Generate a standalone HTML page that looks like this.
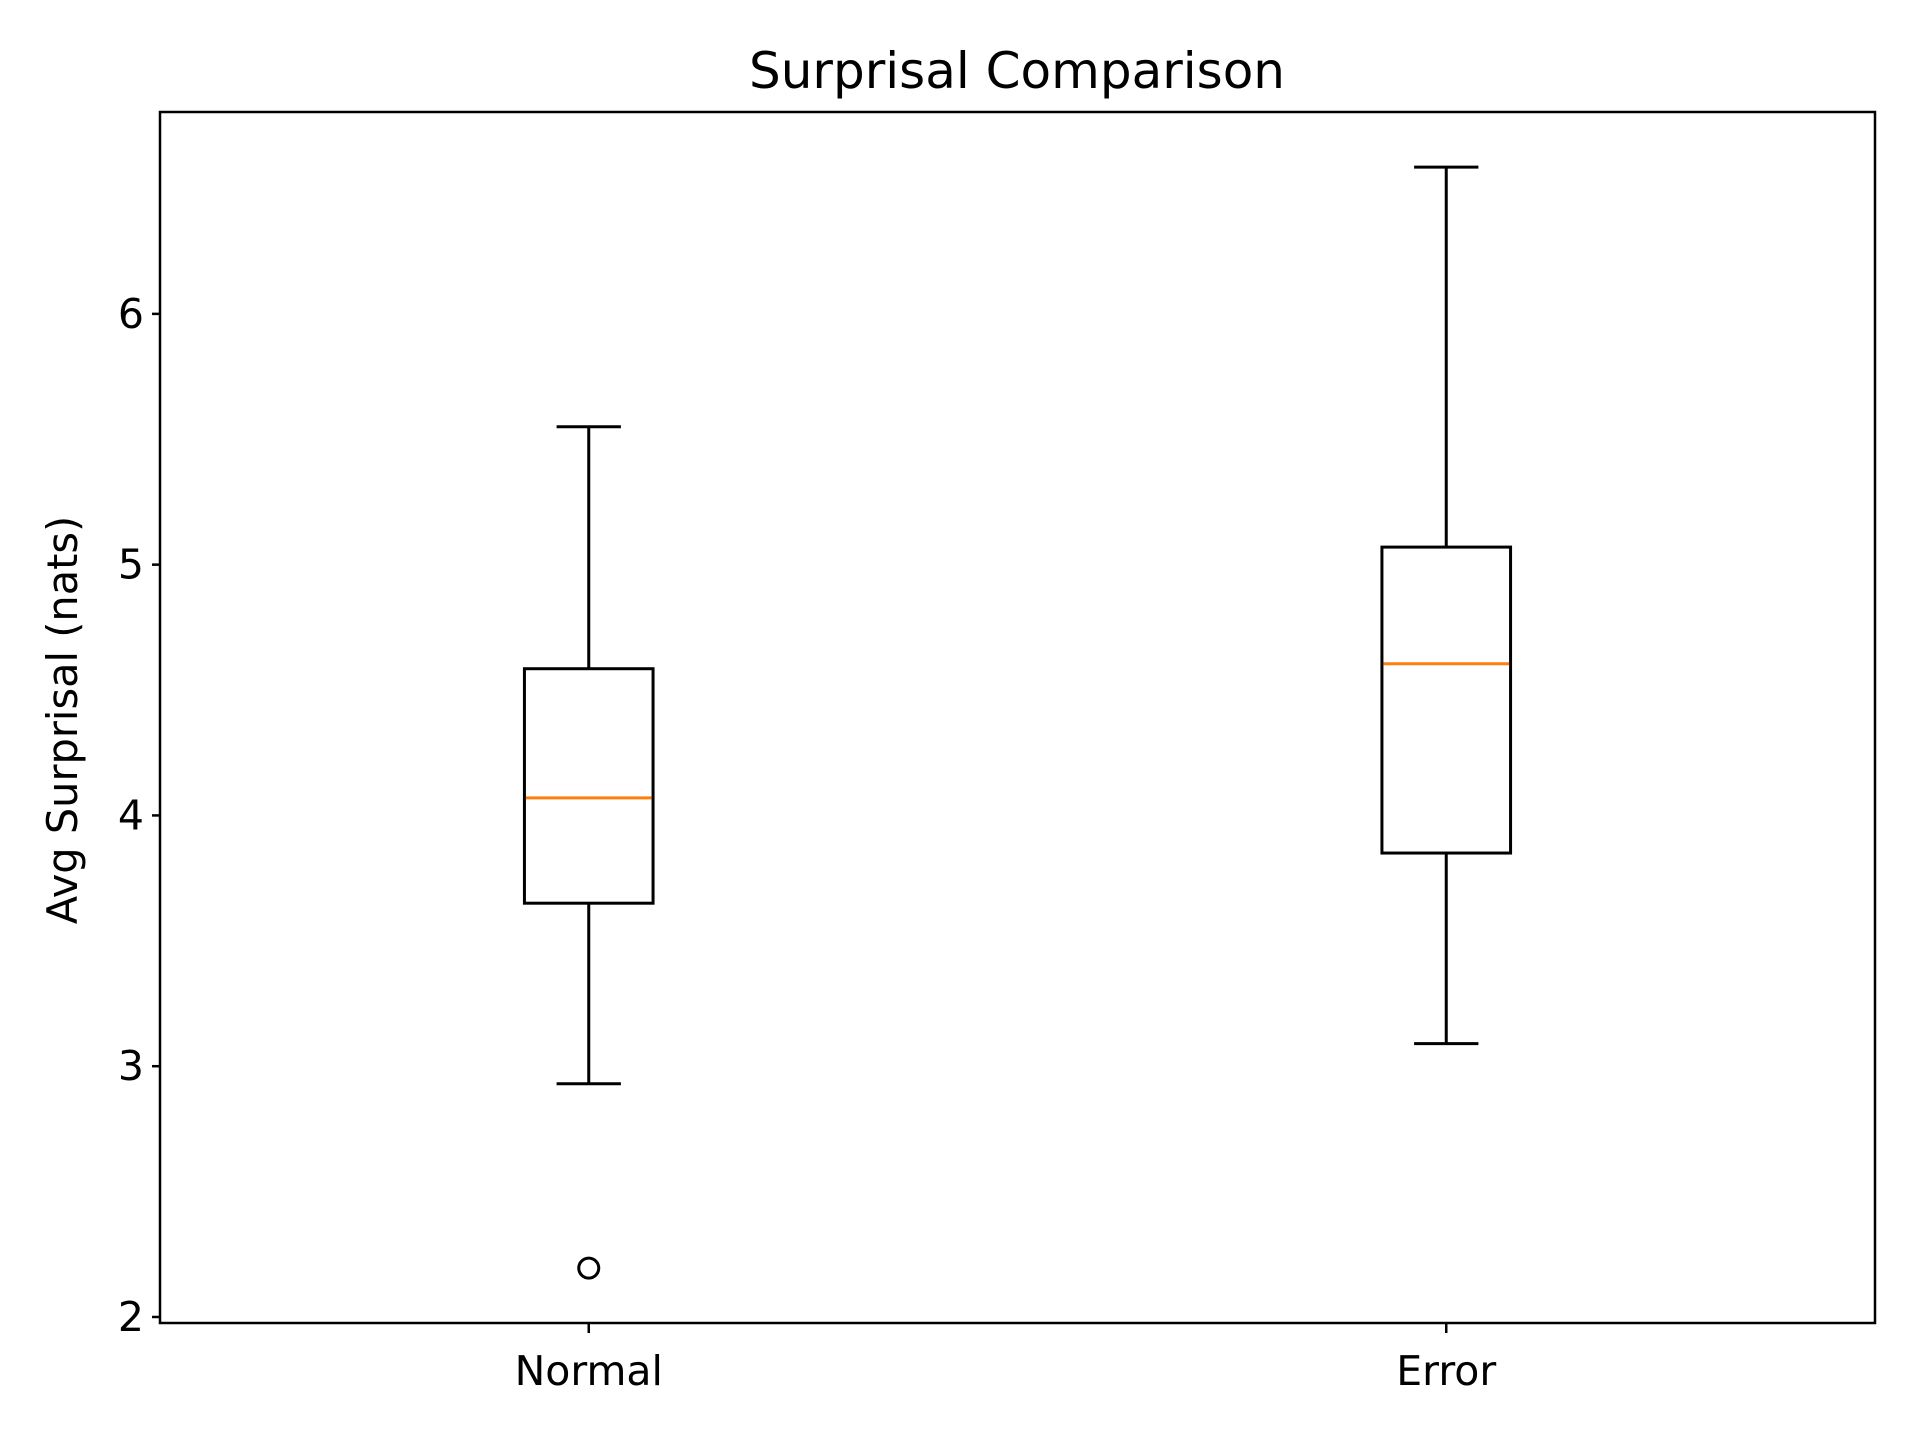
<!DOCTYPE html>
<html><head><meta charset="utf-8"><style>
html,body{margin:0;padding:0;background:#fff;}
svg{display:block;font-family:"DejaVu Sans","Liberation Sans",sans-serif;}
</style></head><body>
<svg id="chart" width="1920" height="1440" viewBox="0 0 1920 1440" xmlns="http://www.w3.org/2000/svg">
<rect width="1920" height="1440" fill="#fff"/>
<text x="1017" y="88" font-size="50" text-anchor="middle">Surprisal Comparison</text>
<text transform="translate(77,720) rotate(-90)" font-size="41.5" text-anchor="middle">Avg Surprisal (nats)</text>
<g id="marks"></g>
<rect x="160" y="112" width="1715" height="1211" fill="none" stroke="#000" stroke-width="2.5"/>
</svg>
<script>
const categories = ["Normal", "Error"];
const whiskerLow = [2.93, 3.09];
const q1 = [3.65, 3.85];
const medians = [4.07, 4.605];
const q3 = [4.585, 5.07];
const whiskerHigh = [5.55, 6.585];
const outliers = [[2.195], []];
const yTicks = [2, 3, 4, 5, 6];

const L = 160, R = 1875, T = 112, B = 1323;
const yMin = 1.976, yMax = 6.805;
const xMin = 0.5, xMax = 2.5;
function xs(i){ return L + (i + 1 - xMin) / (xMax - xMin) * (R - L); }
function ys(v){ return B - (v - yMin) / (yMax - yMin) * (B - T); }

const NS = "http://www.w3.org/2000/svg";
const g = document.getElementById('marks');
function mk(tag, attrs, parent){
  const e = document.createElementNS(NS, tag);
  for (const k in attrs) e.setAttribute(k, attrs[k]);
  (parent || g).appendChild(e);
  return e;
}
const unit = (R - L) / (xMax - xMin);
const boxW = 0.15 * unit, capW = 0.075 * unit;

yTicks.forEach(t => {
  const y = ys(t);
  const tk = mk('line', {x1: L - 8, x2: L, y1: y, y2: y, stroke: '#000', 'stroke-width': 2.5});
  
  
  const tx = mk('text', {x: L - 16, y: y + 14, 'font-size': 41, 'text-anchor': 'end'});
  tx.textContent = t;
  
  
});

categories.forEach((c, i) => {
  const x = xs(i);
  const tk = mk('line', {x1: x, x2: x, y1: B, y2: B + 10, stroke: '#000', 'stroke-width': 2.5});
  
  
  const tx = mk('text', {x: x, y: B + 62, 'font-size': 41, 'text-anchor': 'middle'});
  tx.textContent = c;
  
  

  const grp = mk('g', {});
  
  
  const st = {stroke: '#000', 'stroke-width': 3, fill: 'none'};
  mk('line', Object.assign({x1: x, x2: x, y1: ys(q3[i]), y2: ys(whiskerHigh[i])}, st), grp);
  mk('line', Object.assign({x1: x, x2: x, y1: ys(q1[i]), y2: ys(whiskerLow[i])}, st), grp);
  mk('line', Object.assign({x1: x - capW/2, x2: x + capW/2, y1: ys(whiskerHigh[i]), y2: ys(whiskerHigh[i])}, st), grp);
  mk('line', Object.assign({x1: x - capW/2, x2: x + capW/2, y1: ys(whiskerLow[i]), y2: ys(whiskerLow[i])}, st), grp);
  mk('rect', Object.assign({x: x - boxW/2, y: ys(q3[i]), width: boxW, height: ys(q1[i]) - ys(q3[i])}, st), grp);
  const md = mk('line', {x1: x - boxW/2 + 1.5, x2: x + boxW/2 - 1.5, y1: ys(medians[i]), y2: ys(medians[i]), stroke: '#ff7f0e', 'stroke-width': 3}, grp);
  
  
  outliers[i].forEach(v => {
    const o = mk('circle', {cx: x, cy: ys(v), r: 10, fill: 'none', stroke: '#000', 'stroke-width': 3}, grp);
    
    
  });
});
</script>
</body></html>
